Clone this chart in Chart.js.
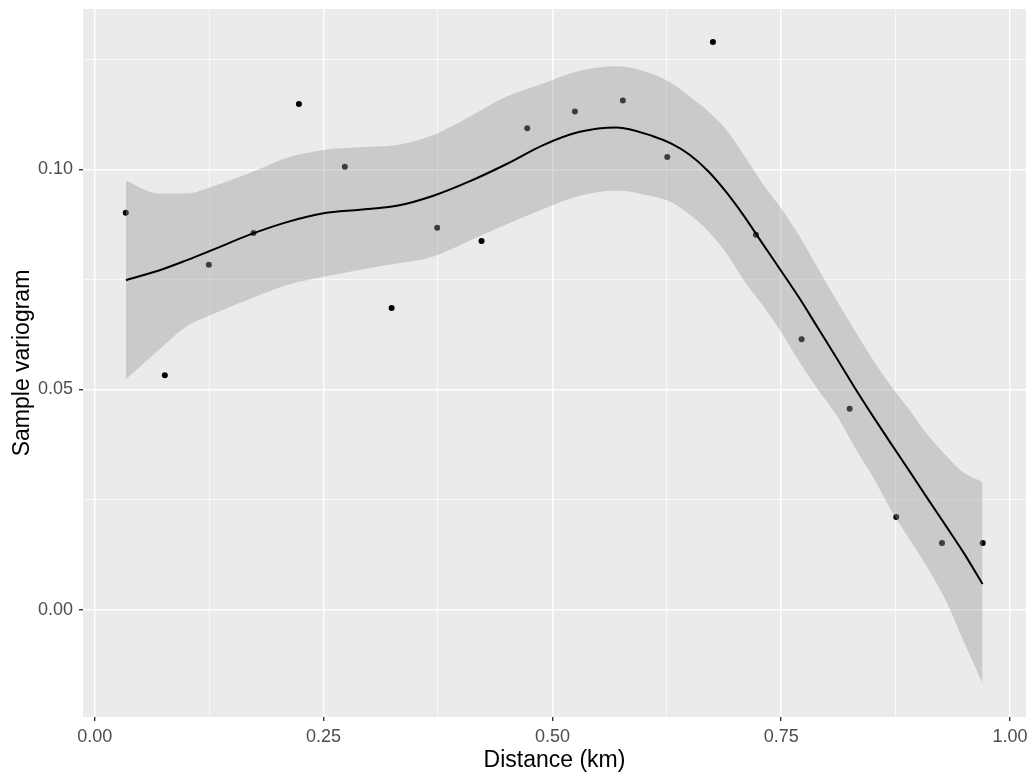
<!DOCTYPE html>
<html>
<head>
<meta charset="utf-8">
<script src="https://cdn.jsdelivr.net/npm/chart.js@4.4.0/dist/chart.umd.min.js"></script>
<style>
  html, body { margin: 0; padding: 0; background: #ffffff; }
  #wrap { width: 1034px; height: 775px; }
</style>
</head>
<body>
<div id="wrap"><canvas id="c" width="1034" height="775"></canvas></div>
<script>
// ---- Data ----
const distances = [0.0339, 0.0765, 0.1246, 0.1734, 0.2230, 0.2732, 0.3243, 0.3741, 0.4226, 0.4725,
                   0.5246, 0.5770, 0.6255, 0.6754, 0.7224, 0.7723, 0.8248, 0.8757, 0.9257, 0.9702];
const variogram = [0.0901, 0.0532, 0.0783, 0.0855, 0.1148, 0.1006, 0.0685, 0.0867, 0.0837, 0.1093,
                   0.1131, 0.1156, 0.1028, 0.1289, 0.0851, 0.0614, 0.0456, 0.0210, 0.0151, 0.0151];

const smoothX     = [0.034, 0.07, 0.10, 0.13, 0.17, 0.21, 0.25, 0.29, 0.33, 0.37, 0.41, 0.45, 0.49,
                     0.53, 0.57, 0.61, 0.63, 0.65, 0.67, 0.69, 0.71, 0.73, 0.75, 0.77, 0.79, 0.81,
                     0.83, 0.85, 0.87, 0.89, 0.91, 0.93, 0.95, 0.970];
const smoothFit   = [0.0748, 0.0770, 0.0793, 0.0818, 0.0852, 0.0880, 0.0900, 0.0908, 0.0917, 0.0940, 0.0973, 0.1012, 0.1055,
                     0.1085, 0.1095, 0.1075, 0.1058, 0.1033, 0.0996, 0.0948, 0.0892, 0.0830, 0.0769, 0.0707, 0.0640, 0.0573,
                     0.0505, 0.0440, 0.0377, 0.0315, 0.0252, 0.0190, 0.0127, 0.0058];
const smoothUpper = [0.0974, 0.0945, 0.0945, 0.0962, 0.0992, 0.1026, 0.1044, 0.1050, 0.1055, 0.1078, 0.1120, 0.1165, 0.1195,
                     0.1224, 0.1234, 0.1216, 0.1196, 0.1165, 0.1132, 0.1090, 0.1030, 0.0966, 0.0911, 0.0848, 0.0776, 0.0704,
                     0.0635, 0.0568, 0.0508, 0.0454, 0.0397, 0.0350, 0.0310, 0.0290];
const smoothLower = [0.0523, 0.0590, 0.0643, 0.0672, 0.0706, 0.0737, 0.0756, 0.0772, 0.0786, 0.0802, 0.0838, 0.0875, 0.0910,
                     0.0940, 0.0952, 0.0938, 0.0925, 0.0897, 0.0860, 0.0810, 0.0745, 0.0690, 0.0630, 0.0562, 0.0500, 0.0443,
                     0.0370, 0.0302, 0.0226, 0.0160, 0.0095, 0.0020, -0.0075, -0.0168];

const xMajorTicks = [0, 0.25, 0.5, 0.75, 1.0];
const xMinorTicks = [0.125, 0.375, 0.625, 0.875];
const xTickLabels = ['0.00', '0.25', '0.50', '0.75', '1.00'];
const yMajorTicks = [0, 0.05, 0.10];
const yMinorTicks = [0.025, 0.075, 0.125];
const yTickLabels = ['0.00', '0.05', '0.10'];

const xLimits = [-0.0129, 1.0175];
const yLimits = [-0.0244, 0.1364];

// ---- Build ----
const pts = (xs, ys) => xs.map((x, i) => ({ x: x, y: ys[i] }));

function tickSetter(majors, minors) {
  return function (scale) {
    const all = majors.map(v => ({ value: v, major: true }))
      .concat(minors.map(v => ({ value: v, major: false })))
      .sort((a, b) => a.value - b.value);
    scale.ticks = all;
  };
}
function labeler(majors, labels) {
  return function (value) {
    for (let i = 0; i < majors.length; i++) {
      if (Math.abs(majors[i] - value) < 1e-9) return labels[i];
    }
    return '';
  };
}
function isMajor(majors, v) {
  return majors.some(m => Math.abs(m - v) < 1e-9);
}

const panelBg = {
  id: 'panelBg',
  beforeDraw(chart) {
    const a = chart.chartArea;
    const ctx = chart.ctx;
    ctx.save();
    ctx.fillStyle = '#EBEBEB';
    ctx.fillRect(a.left, a.top, a.right - a.left, a.bottom - a.top);
    ctx.restore();
  }
};

const ribbonColor = 'rgba(153,153,153,0.4)';
const FONT = '"Liberation Sans", Arial, sans-serif';

new Chart(document.getElementById('c'), {
  type: 'scatter',
  data: {
    datasets: [
      {
        label: 'points',
        data: pts(distances, variogram),
        backgroundColor: '#000000',
        borderWidth: 0,
        pointRadius: 3,
        order: 3
      },
      {
        type: 'line',
        label: 'upper',
        data: pts(smoothX, smoothUpper),
        borderWidth: 0,
        borderColor: 'rgba(0,0,0,0)',
        backgroundColor: ribbonColor,
        pointRadius: 0,
        cubicInterpolationMode: 'monotone',
        fill: '+1',
        order: 2
      },
      {
        type: 'line',
        label: 'lower',
        data: pts(smoothX, smoothLower),
        borderWidth: 0,
        borderColor: 'rgba(0,0,0,0)',
        backgroundColor: ribbonColor,
        pointRadius: 0,
        cubicInterpolationMode: 'monotone',
        fill: false,
        order: 2
      },
      {
        type: 'line',
        label: 'fit',
        data: pts(smoothX, smoothFit),
        borderColor: '#000000',
        borderWidth: 2,
        pointRadius: 0,
        cubicInterpolationMode: 'monotone',
        fill: false,
        order: 1
      }
    ]
  },
  options: {
    responsive: false,
    animation: false,
    devicePixelRatio: 1,
    layout: { padding: { top: 9, right: 8, left: 9, bottom: 0 } },
    plugins: {
      legend: { display: false },
      tooltip: { enabled: false }
    },
    scales: {
      x: {
        type: 'linear',
        min: xLimits[0],
        max: xLimits[1],
        afterBuildTicks: tickSetter(xMajorTicks, xMinorTicks),
        afterFit(scale) {
          scale.height = 58;
          scale.paddingLeft = 0; scale.paddingRight = 0;
        },
        border: { display: false },
        grid: {
          color: '#FFFFFF',
          lineWidth: ctx => isMajor(xMajorTicks, ctx.tick.value) ? 1.4 : 0.7,
          tickColor: ctx => isMajor(xMajorTicks, ctx.tick.value) ? '#333333' : 'rgba(0,0,0,0)',
          tickLength: 4,
          drawTicks: true
        },
        ticks: {
          autoSkip: false,
          maxRotation: 0,
          padding: 5,
          color: '#4D4D4D',
          font: { family: FONT, size: 18 },
          callback: labeler(xMajorTicks, xTickLabels)
        },
        title: {
          display: true,
          text: 'Distance (km)',
          color: '#000000',
          font: { family: FONT, size: 23 },
          padding: { top: 0, bottom: 1 }
        }
      },
      y: {
        type: 'linear',
        min: yLimits[0],
        max: yLimits[1],
        afterBuildTicks: tickSetter(yMajorTicks, yMinorTicks),
        afterFit(scale) {
          scale.width = 74;
          scale.paddingTop = 0; scale.paddingBottom = 0;
        },
        border: { display: false },
        grid: {
          color: '#FFFFFF',
          lineWidth: ctx => isMajor(yMajorTicks, ctx.tick.value) ? 1.4 : 0.7,
          tickColor: ctx => isMajor(yMajorTicks, ctx.tick.value) ? '#333333' : 'rgba(0,0,0,0)',
          tickLength: 4,
          drawTicks: true
        },
        ticks: {
          autoSkip: false,
          padding: 6,
          color: '#4D4D4D',
          font: { family: FONT, size: 18 },
          callback: labeler(yMajorTicks, yTickLabels)
        },
        title: {
          display: true,
          text: 'Sample variogram',
          color: '#000000',
          font: { family: FONT, size: 23 },
          padding: { top: 0, bottom: 0 }
        }
      }
    }
  },
  plugins: [panelBg]
});
</script>
</body>
</html>
